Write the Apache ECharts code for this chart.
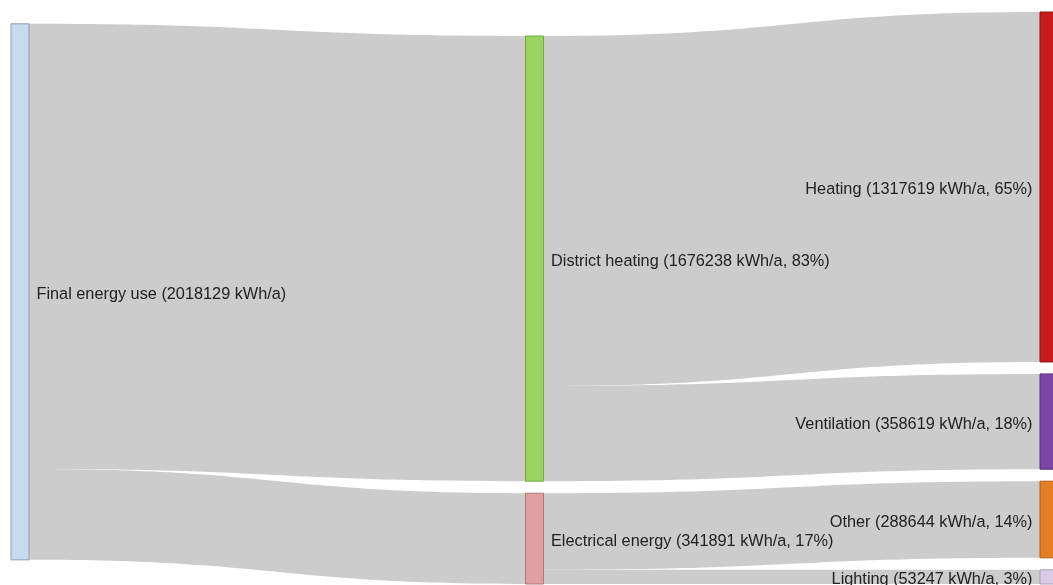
<!DOCTYPE html>
<html>
<head>
<meta charset="utf-8">
<script src="https://cdn.jsdelivr.net/npm/echarts@6/dist/echarts.min.js"></script>
<style>
html,body{margin:0;padding:0;background:#fff;}
#chart{width:1053px;height:585px;}
</style>
</head>
<body>
<div id="chart"></div>
<script>
// Data
const nodeNames = ['Final energy use', 'District heating', 'Electrical energy', 'Heating', 'Ventilation', 'Other', 'Lighting'];
const linkSources = ['Final energy use', 'Final energy use', 'District heating', 'District heating', 'Electrical energy', 'Electrical energy'];
const linkTargets = ['District heating', 'Electrical energy', 'Heating', 'Ventilation', 'Other', 'Lighting'];
const linkValues = [1676238, 341891, 1317619, 358619, 288644, 53247];
const totalValue = 2018129;
const unit = 'kWh/a';

// Styles
const nodeFill = ['#c6dbf1', '#98d45e', '#e0a0a0', '#c81a1a', '#7e45a8', '#e67e22', '#d8cce6'];
const nodeBorder = ['#8c9bb0', '#74a844', '#b07878', '#8e1212', '#5a3078', '#b06018', '#a89cb6'];
const labelLeft = [false, false, false, true, true, true, true];

const chart = echarts.init(document.getElementById('chart'), null, {renderer: 'canvas'});

const nodes = nodeNames.map((n, i) => ({
  name: n,
  itemStyle: {color: nodeFill[i], borderColor: nodeBorder[i], borderWidth: 1},
  label: {position: labelLeft[i] ? 'left' : 'right'}
}));
const links = linkSources.map((s, i) => ({source: s, target: linkTargets[i], value: linkValues[i]}));

chart.setOption({
  animation: false,
  series: [{
    type: 'sankey',
    left: 11,
    right: -5,
    top: 12,
    bottom: 1,
    nodeWidth: 18,
    nodeGap: 12,
    draggable: false,
    emphasis: {disabled: true},
    data: nodes,
    links: links,
    lineStyle: {color: '#cccccc', opacity: 1, curveness: 0.5},
    label: {
      color: '#222',
      fontFamily: 'Liberation Sans, Arial, sans-serif',
      fontSize: 16.3,
      distance: 7,
      offset: [0, 2.5],
      formatter: function (p) {
        const v = p.value;
        if (p.name === nodeNames[0]) return p.name + ' (' + v + ' ' + unit + ')';
        return p.name + ' (' + v + ' ' + unit + ', ' + Math.round(v / totalValue * 100) + '%)';
      }
    }
  }]
});
</script>
</body>
</html>
